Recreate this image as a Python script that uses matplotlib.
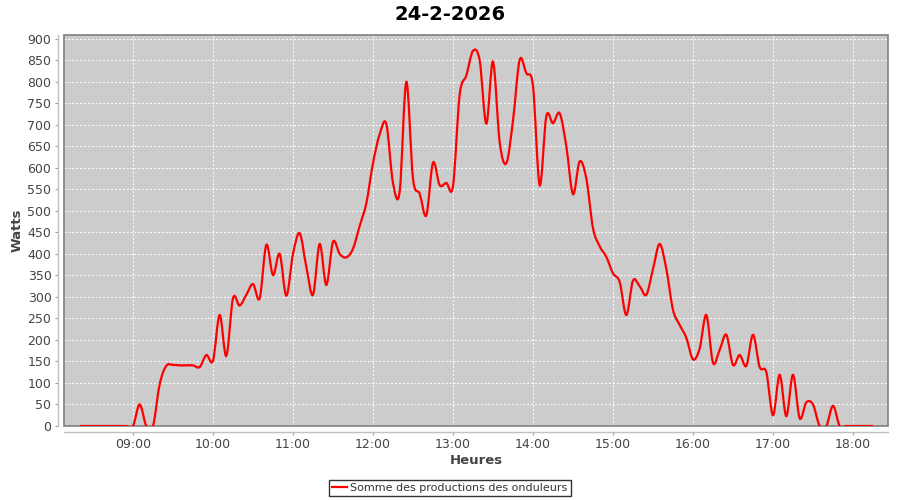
import numpy as np
import matplotlib
matplotlib.use("Agg")
import matplotlib.pyplot as plt
from matplotlib.path import Path
from matplotlib.patches import PathPatch, Rectangle
from matplotlib.lines import Line2D
from matplotlib.ticker import FixedLocator, FuncFormatter

title = "24-2-2026"
series_name = "Somme des productions des onduleurs"
x_label = "Heures"
y_label = "Watts"

start_time = "08:20"   # first sample
step_minutes = 5       # sampling interval

watts = [
    0, 0, 0, 0, 0, 0, 0, 0,                 # 08:20 - 08:55
    0, 50, 0, 0, 97, 140, 142, 141, 141, 141, 137, 165,   # 09:00 - 09:55
    152, 258, 163, 297, 280, 305, 330, 297, 421, 351, 400, 303,  # 10:00 - 10:55
    400, 448, 370, 305, 423, 328, 428, 400, 392, 412, 465, 518,  # 11:00 - 11:55
    611, 678, 702, 565, 545, 800, 575, 540, 490, 612, 560, 565,  # 12:00 - 12:55
    558, 770, 815, 872, 850, 703, 847, 660, 611, 710, 851, 820,  # 13:00 - 13:55
    790, 560, 720, 704, 727, 650, 539, 615, 575, 460, 418, 393,  # 14:00 - 14:55
    355, 335, 258, 338, 325, 305, 365, 423, 365, 270, 235, 205,  # 15:00 - 15:55
    155, 180, 258, 147, 177, 212, 142, 165, 140, 212, 137, 125,  # 16:00 - 16:55
    25, 119, 23, 119, 18, 55, 50, 0, 0, 47, 0, 0,                # 17:00 - 17:55
    0, 0, 0, 0,                                                  # 18:00 - 18:15
]

hour_ticks = [9, 10, 11, 12, 13, 14, 15, 16, 17, 18]
y_ticks = list(range(0, 901, 50))

h0, m0 = (int(v) for v in start_time.split(":"))
t = np.array([h0 + (m0 + step_minutes * i) / 60.0 for i in range(len(watts))])
w = np.array(watts, dtype=float)

fig = plt.figure(figsize=(9, 5), dpi=100)
fig.patch.set_facecolor("white")
ax = fig.add_axes([64 / 900, 1 - 426 / 500, (888 - 64) / 900, (426 - 35) / 500])
ax.set_facecolor("#cccccc")

ax.set_xlim(8.1375, 18.4375)
ax.set_ylim(0, 909)

# grid
ax.xaxis.set_major_locator(FixedLocator(hour_ticks))
ax.yaxis.set_major_locator(FixedLocator(y_ticks))
ax.xaxis.set_major_formatter(FuncFormatter(lambda v, p: "%02d:00" % int(round(v))))
ax.grid(True, color="white", linewidth=0.7, linestyle=(0, (2, 2)))
ax.set_axisbelow(True)

# border of the plot area
ax.add_patch(Rectangle((0, 0), 1, 1, transform=ax.transAxes, fill=False,
                       edgecolor="#808080", linewidth=1.2, zorder=2, clip_on=False))

# smooth (Catmull-Rom) curve through the data points, as a spline renderer does
pts = np.column_stack([t, w])
verts = [pts[0]]
codes = [Path.MOVETO]
n = len(pts)
for i in range(n - 1):
    p0 = pts[max(i - 1, 0)]
    p1 = pts[i]
    p2 = pts[i + 1]
    p3 = pts[min(i + 2, n - 1)]
    c1 = p1 + (p2 - p0) / 6.0
    c2 = p2 - (p3 - p1) / 6.0
    verts += [c1, c2, p2]
    codes += [Path.CURVE4, Path.CURVE4, Path.CURVE4]
curve = PathPatch(Path(np.array(verts), codes), facecolor="none",
                  edgecolor="#ff0000", linewidth=1.6, zorder=3)
ax.add_patch(curve)

# spines: offset axis lines like the reference
for s in ["top", "right"]:
    ax.spines[s].set_visible(False)
for s in ["left", "bottom"]:
    ax.spines[s].set_position(("outward", 4))
    ax.spines[s].set_color("#c0c0c0")
    ax.spines[s].set_linewidth(1)

ax.tick_params(axis="both", direction="out", length=2, width=0.8, color="#a0a0a0",
               labelsize=9, labelcolor="#444444", pad=3)

ax.set_xlabel(x_label, fontsize=9.5, fontweight="bold", color="#444444", labelpad=2)
ax.set_ylabel(y_label, fontsize=9.5, fontweight="bold", color="#444444", labelpad=3)

fig.text(0.5, 1 - 14 / 500, title, ha="center", va="center",
         fontsize=14, fontweight="bold", color="black")

handle = Line2D([], [], color="#ff0000", linewidth=1.6)
leg = fig.legend([handle], [series_name], loc="center", bbox_to_anchor=(0.5, 1 - 488 / 500),
                 frameon=True, fancybox=False, fontsize=8, handlelength=1.3,
                 handletextpad=0.3, borderpad=0.3, borderaxespad=0)
leg.get_frame().set_edgecolor("black")
leg.get_frame().set_linewidth(1)
for txt in leg.get_texts():
    txt.set_color("#333333")

fig.savefig("out.png", dpi=100)
